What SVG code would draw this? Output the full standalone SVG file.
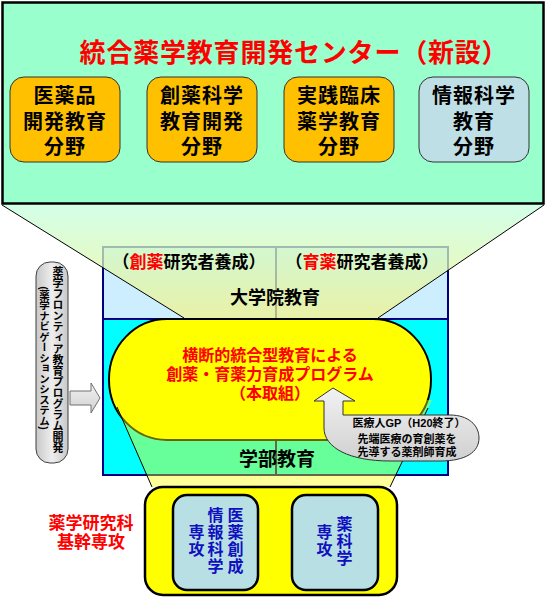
<svg xmlns="http://www.w3.org/2000/svg" width="546" height="599" viewBox="0 0 546 599">
<defs>
<style>
text{font-family:"Liberation Sans","Noto Sans CJK JP","Noto Sans CJK SC",sans-serif;font-weight:bold;}
.c{text-anchor:middle;}
.v{writing-mode:vertical-rl;text-anchor:middle;}
.field{fill:#FFC000;stroke:#333;stroke-width:1;}
.field2{fill:#BEDFE6;stroke:#333;stroke-width:1;}
.ft{font-size:20px;fill:#000;letter-spacing:1px;}
.red{fill:#FF0000;}
.navy{stroke:#000080;stroke-width:2;fill:none;}
.edge{stroke:#000;stroke-width:1;fill:none;}
.major{fill:#B8E0E4;stroke:#000;stroke-width:2.5;}
.mt{font-size:16px;fill:#1010C0;letter-spacing:1px;}
</style>
<linearGradient id="gUp" gradientUnits="userSpaceOnUse" x1="0" y1="205" x2="0" y2="318">
<stop offset="0" stop-color="#C4FFE0"/>
<stop offset="1" stop-color="#F2F28A"/>
</linearGradient>
<linearGradient id="gGray" x1="0" y1="0" x2="1" y2="0">
<stop offset="0" stop-color="#C8C8C8"/>
<stop offset="0.5" stop-color="#EEEEEE"/>
<stop offset="1" stop-color="#C8C8C8"/>
</linearGradient>
<linearGradient id="gCall" x1="0" y1="0" x2="0" y2="1">
<stop offset="0" stop-color="#F2F2F2"/>
<stop offset="1" stop-color="#D0D0D0"/>
</linearGradient>
</defs>

<g id="center">
<rect x="2.5" y="2.5" width="541" height="201" fill="#99FFCC" stroke="#000" stroke-width="2.5"/>
<text class="c red" x="294" y="62" font-size="26" letter-spacing="0.8">統合薬学教育開発センター（新設）</text>
</g>
<g id="field1">
<rect class="field" x="10" y="77" width="110" height="85" rx="14"/>
<text class="c ft"><tspan x="65" y="103">医薬品</tspan><tspan x="65" y="129">開発教育</tspan><tspan x="65" y="154">分野</tspan></text>
</g>
<g id="field2">
<rect class="field" x="147" y="77" width="110" height="85" rx="14"/>
<text class="c ft"><tspan x="202" y="103">創薬科学</tspan><tspan x="202" y="129">教育開発</tspan><tspan x="202" y="154">分野</tspan></text>
</g>
<g id="field3">
<rect class="field" x="284" y="77" width="110" height="85" rx="14"/>
<text class="c ft"><tspan x="339" y="103">実践臨床</tspan><tspan x="339" y="129">薬学教育</tspan><tspan x="339" y="154">分野</tspan></text>
</g>
<g id="field4">
<rect class="field2" x="419" y="77" width="110" height="85" rx="14"/>
<text class="c ft"><tspan x="474" y="103">情報科学</tspan><tspan x="474" y="129">教育</tspan><tspan x="474" y="154">分野</tspan></text>
</g>

<g id="education">
<rect x="103" y="247" width="345" height="72" fill="#CCEEFF"/>
<rect x="103" y="319" width="345" height="156" fill="#00FFFF"/>
<rect class="navy" x="103" y="247" width="345" height="228"/>
<line class="navy" x1="103" y1="319" x2="448" y2="319"/>
<line class="navy" x1="276" y1="247" x2="276" y2="475"/>
</g>

<g id="connectors">
<polygon points="2,205 544,205 378,318 184,318" fill="url(#gUp)" fill-opacity="0.75"/>
<line class="edge" x1="2" y1="205" x2="184" y2="318"/>
<line class="edge" x1="544" y1="205" x2="378" y2="318"/>
</g>

<g id="program">
<rect x="109" y="319" width="322" height="121" rx="58" ry="60" fill="#FFFF00" stroke="#000" stroke-width="2"/>
</g>

<g id="connectors-lower">
<polygon points="113,400 432,400 390,487 152,487" fill="#FFFF00" fill-opacity="0.4"/>
<line class="edge" x1="117" y1="407" x2="152" y2="487"/>
<line class="edge" x1="428" y1="408" x2="390" y2="487"/>
</g>

<g id="labels">
<text class="c" x="189" y="268" font-size="17">（<tspan class="red">創薬</tspan>研究者養成）</text>
<text class="c" x="362" y="268" font-size="17">（<tspan class="red">育薬</tspan>研究者養成）</text>
<text class="c" x="275" y="304" font-size="18">大学院教育</text>
<text class="c" x="277" y="466" font-size="19">学部教育</text>
<text class="c red" font-size="16"><tspan x="270" y="361">横断的統合型教育による</tspan><tspan x="270" y="380">創薬・育薬力育成プログラム</tspan><tspan x="270" y="399">（本取組）</tspan></text>
</g>

<g id="gp">
<path d="M333,388 L355,401 L343,401 L343,415 L450,415 C468,415 479,425 479,438 C479,452 466,461 440,461 L390,461 C350,461 324,448 324,428 L324,401 L314,401 Z" fill="url(#gCall)" stroke="#333" stroke-width="1"/>
<text class="c" font-size="11"><tspan x="409" y="427">医療人GP（H20終了）</tspan><tspan x="407" y="443">先端医療の育創薬を</tspan><tspan x="407" y="456">先導する薬剤師育成</tspan></text>
</g>

<g id="frontier">
<rect x="36" y="262" width="32" height="201" rx="14" fill="url(#gGray)" stroke="#404040" stroke-width="1"/>
<text class="v" x="57" y="360" font-size="11">薬学フロンティア教育プログラム開発</text>
<text class="v" x="44" y="358" font-size="10.5">(薬学ナビゲーションシステム)</text>
<path d="M70,391 L91,391 L91,383 L100,398 L91,413 L91,405 L70,405 Z" fill="url(#gCall)" stroke="#707070" stroke-width="1"/>
</g>

<g id="majors">
<rect x="145" y="487" width="252" height="108" rx="18" fill="#FFFF00" stroke="#000" stroke-width="2.5"/>
<text class="c red" font-size="17"><tspan x="91" y="529">薬学研究科</tspan><tspan x="91" y="548">基幹専攻</tspan></text>
</g>
<g id="major1">
<rect class="major" x="173" y="495" width="85" height="95" rx="14"/>
<text class="v mt" x="234" y="541">医薬創成</text>
<text class="v mt" x="214" y="541">情報科学</text>
<text class="v mt" x="195" y="541">専攻</text>
</g>
<g id="major2">
<rect class="major" x="292" y="495" width="86" height="95" rx="14"/>
<text class="v mt" x="343" y="541">薬科学</text>
<text class="v mt" x="323" y="541">専攻</text>
</g>
</svg>
